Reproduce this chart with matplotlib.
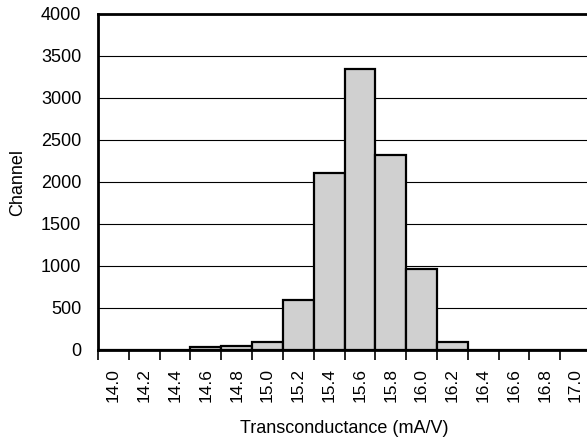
import matplotlib
matplotlib.use("Agg")
import matplotlib.pyplot as plt

plt.rcParams['font.family'] = ['Liberation Sans', 'DejaVu Sans']

bins = ['14.0', '14.2', '14.4', '14.6', '14.8', '15.0', '15.2', '15.4',
        '15.6', '15.8', '16.0', '16.2', '16.4', '16.6', '16.8', '17.0']
counts = [0, 0, 0, 35, 50, 100, 600, 2110, 3350, 2320, 960, 100, 0, 0, 0, 0]

fig = plt.figure(figsize=(5.87, 4.38), dpi=100)
ax = fig.add_axes([98 / 587, 1 - 350 / 438, 493 / 587, 336 / 438])

x = list(range(len(bins)))
ax.bar(x, counts, width=1.0, color='#d0d0d0', edgecolor='black', linewidth=1.6, zorder=3)

ax.set_xlim(-0.5, len(bins) - 0.5)
ax.set_ylim(0, 4000)
ax.set_yticks(range(0, 4001, 500))
ax.yaxis.grid(True, color='black', linewidth=0.8, zorder=0)
ax.tick_params(axis='y', length=0, pad=12, labelsize=13)

ax.set_xticks([i - 0.5 for i in x])
ax.set_xticklabels([])
ax.set_xticks(x, minor=True)
ax.set_xticklabels(bins, minor=True, rotation=90, fontsize=12.5)
ax.tick_params(axis='x', which='major', direction='out', length=7, width=1.2)
ax.tick_params(axis='x', which='minor', length=0, pad=13)

for s in ax.spines.values():
    s.set_linewidth(2)
    s.set_zorder(4)

ax.set_ylabel('Channel', fontsize=13, labelpad=11)
ax.set_xlabel('Transconductance (mA/V)', fontsize=13, labelpad=13)

fig.savefig('out.png', dpi=100)
